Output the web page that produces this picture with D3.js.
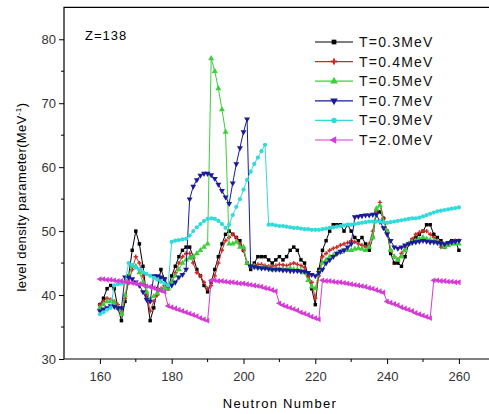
<!DOCTYPE html>
<html>
<head>
<meta charset="utf-8">
<script src="https://cdn.jsdelivr.net/npm/d3@7"></script>
<style>
  body { margin: 0; background: #fff; overflow: hidden; }
  svg { display: block; font-family: "Liberation Sans", Arial, sans-serif; }
</style>
</head>
<body>
<div id="chart"></div>
<script>
// neutron numbers 160..260
const neutrons = d3.range(160, 261)

const t03 = [
  38.5, 39.5, 41, 41.5, 41, 38, 36, 39, 43, 47,
  50, 48, 44.5, 40, 36, 38, 41, 44, 42.5, 41,
  43, 44.5, 46, 47, 47.5, 47.5, 46, 44, 43, 41.5,
  40.5, 42, 44, 46, 48, 49.5, 50, 49.5, 49, 48.5,
  47, 45, 44, 45, 46, 46, 46, 45.5, 45, 45.5,
  46, 45.5, 46, 47, 47.5, 47, 45.5, 45, 43, 41,
  38.5, 44, 47, 48.5, 50, 51, 51, 51, 50, 51,
  50, 49, 48.5, 49, 48, 47, 49, 53, 53, 52,
  50, 46.5, 45, 45, 44.5, 46, 48, 48.5, 49, 49.5,
  50, 51, 51, 49.5, 49, 48.5, 47.5, 48, 48.5, 48.5,
  47
]
const t04 = [
  38.5, 39, 39.5, 39.3, 39, 38.5, 37, 39.5, 42, 44,
  46, 45, 43, 40, 37.5, 39, 40, 41, 41.5, 41,
  42, 43.5, 45, 46, 46.5, 46.5, 45, 43.5, 43, 42,
  41, 41.5, 43, 45, 47, 48.5, 49, 49.5, 49, 48,
  47, 45, 44.5, 44.7, 44.8, 44.8, 44.6, 44.5, 44.5, 44.6,
  44.8, 44.7, 44.6, 44.8, 45, 44.8, 44.6, 44.3, 43, 42,
  39.5, 43, 46, 46.5, 47, 47.3, 47.5, 47.8, 48, 48.2,
  48.5, 48.3, 48, 47.8, 47.5, 48, 50, 53, 54.5, 52,
  50, 47, 46, 45.5, 46.5, 47.5, 48, 48.8, 49.5, 49.8,
  50, 50, 49.5, 49, 48.5, 47.5, 47.5, 48, 48.3, 48.5,
  48.5
]
const t05 = [
  38, 38.5, 39, 39, 38.8, 38, 37, 40, 43, 44.5,
  44.5, 43.5, 42, 40.5, 39.2, 39.8, 40.3, 40.8, 41, 41,
  42, 43, 44, 45, 45.5, 45.8, 46, 46.5, 47, 47.5,
  48, 77, 75, 72.3, 69, 65.5, 48, 48, 48.3, 47.5,
  47.5, 45, 44.5, 44.5, 44.3, 44.3, 44.2, 44.2, 44, 44,
  44, 44, 44, 44.2, 44, 44, 43.8, 43.5, 42.3, 41.3,
  41, 43.5, 45, 45.5, 46, 46.2, 46.5, 46.7, 47, 47,
  47, 47.2, 47.3, 47.2, 47, 47.5, 49, 53.5, 54, 51.5,
  50, 47, 46, 45.5, 46, 47, 48, 48.3, 48.5, 48.8,
  49, 48.8, 48.6, 48.5, 48.3, 48, 47.5, 47.8, 48, 48,
  48
]
const t07 = [
  37.5, 37.8, 38, 38.3, 38.2, 38, 38, 42.8, 42.8, 42.5,
  42, 41.5, 40.5, 39.3, 39, 43, 43, 42.8, 42.5, 41.5,
  41.5, 42, 42.8, 43.2, 44, 55, 57, 58, 58.7, 59,
  59, 58.8, 58.2, 57.3, 56.3, 55.3, 54.3, 57.5, 60.5, 63,
  65.5, 67.5, 44.5, 44.4, 44.3, 44.2, 44.2, 44.1, 44, 44,
  44, 43.9, 43.9, 43.8, 43.8, 43.8, 43.7, 43.7, 43.5, 43.2,
  43, 43.5, 44, 45, 45.5, 46, 46.5, 46.8, 47, 47.5,
  48, 52.2, 52.3, 52.4, 52.5, 52.5, 52.6, 52.6, 51.5, 50.5,
  49.5, 48.5, 47.5, 47.3, 47.5, 47.8, 48, 48.2, 48.3, 48.4,
  48.5, 48.4, 48.3, 48.3, 48.2, 48.1, 48, 48.2, 48.3, 48.4,
  48.5
]
const t09 = [
  37, 37.3, 37.7, 38, 41.5, 41.7, 41.8, 42, 45, 44.7,
  44.3, 44, 43.6, 43.3, 43, 42.7, 42.4, 42.1, 41.8, 41.5,
  48.3, 48.5, 48.6, 48.7, 48.8, 49.3, 50, 50.6, 51.1, 51.6,
  51.9, 52, 51.9, 51.6, 51.1, 50.5, 51, 52.5, 53.8, 55,
  56.5, 58, 59.3, 60.5, 61.5, 62.5, 63.5, 51, 51, 50.9,
  50.8, 50.8, 50.7, 50.6, 50.5, 50.5, 50.4, 50.3, 50.3, 50.2,
  50.2, 50.2, 50.3, 50.4, 50.5, 50.6, 50.7, 50.8, 50.9, 51,
  51, 51.1, 51.2, 51.3, 51.4, 51.5, 51.5, 51.5, 51.5, 51.4,
  51.3, 51.4, 51.5, 51.6, 51.7, 51.8, 51.9, 52, 52, 52.1,
  52.3, 52.5, 52.7, 52.9, 53.1, 53.2, 53.3, 53.4, 53.5, 53.6,
  53.7
]
const t20 = [
  42.5, 42.5, 42.4, 42.4, 42.3, 42.2, 42.2, 42.1, 42, 41.9,
  41.8, 41.7, 41.6, 41.4, 41.3, 41.1, 40.9, 40.7, 40.5, 38.3,
  38.1, 37.9, 37.7, 37.5, 37.3, 37.1, 36.9, 36.7, 36.4, 36.2,
  36, 42.3, 42.3, 42.2, 42.2, 42.1, 42, 42, 41.9, 41.8,
  41.8, 41.7, 41.6, 41.5, 41.4, 41.3, 41.1, 41, 40.8, 40.6,
  38.7, 38.4, 38.2, 38, 37.8, 37.6, 37.3, 37.1, 36.9, 36.6,
  36.4, 36.2, 42.3, 42.2, 42.2, 42.1, 42, 42, 41.9, 41.8,
  41.7, 41.6, 41.5, 41.4, 41.3, 41.1, 41, 40.8, 40.6, 40.4,
  39, 38.8, 38.6, 38.4, 38.1, 37.9, 37.7, 37.5, 37.2, 37,
  36.8, 36.6, 36.4, 42.3, 42.3, 42.2, 42.2, 42.1, 42.1, 42,
  42
]

const seriesNames = ['T=0.3MeV', 'T=0.4MeV', 'T=0.5MeV', 'T=0.7MeV', 'T=0.9MeV', 'T=2.0MeV']
const seriesValues = [t03, t04, t05, t07, t09, t20]
const xTicks = [160, 180, 200, 220, 240, 260]
const xMinor = [170, 190, 210, 230, 250]
const yTicks = [30, 40, 50, 60, 70, 80]
const yMinor = [35, 45, 55, 65, 75]

const styles = [
  { color: '#000000', sym: d3.symbolSquare, size: 12, rot: 0 },
  { color: '#cc2a2a', sym: d3.symbolCross, size: 10, rot: 0 },
  { color: '#3ccf3c', sym: d3.symbolTriangle, size: 15, rot: 0 },
  { color: '#1a1a9a', sym: d3.symbolTriangle, size: 15, rot: 180 },
  { color: '#33dada', sym: d3.symbolCircle, size: 14, rot: 0 },
  { color: '#d63ad6', sym: d3.symbolTriangle, size: 15, rot: -90 }
]

const width = 489, height = 414
const svg = d3.select('#chart').append('svg')
  .attr('width', width)
  .attr('height', height)

const x = d3.scaleLinear().domain([150, 270]).range([64, 494.8])
const y = d3.scaleLinear().domain([30, 85]).range([359, 7.3])

svg.append('clipPath').attr('id', 'clip')
  .append('rect').attr('x', 0).attr('y', 0).attr('width', 484).attr('height', height)

// frame: left, bottom and top (the right side lies past the picture)
svg.append('path')
  .attr('d', `M${width},${y(85)}H${x(150)}V${y(30)}H${width}`)
  .attr('fill', 'none').attr('stroke', '#000').attr('stroke-width', 1.2)

const xAxis = svg.append('g')
  .attr('transform', `translate(0, ${y(30)})`)
  .call(d3.axisBottom(x).tickValues(xTicks).tickSize(5).tickFormat(d3.format('d')))
xAxis.select('.domain').remove()
xAxis.selectAll('text').attr('fill', '#333').style('font-size', '13px').attr('dy', '1.1em')

const yAxis = svg.append('g')
  .attr('transform', `translate(${x(150)}, 0)`)
  .call(d3.axisLeft(y).tickValues(yTicks).tickSize(5))
yAxis.select('.domain').remove()
yAxis.selectAll('text').attr('fill', '#333').style('font-size', '13px')

// minor ticks
svg.append('g').selectAll('line')
  .data(xMinor)
  .join('line')
  .attr('x1', d => x(d)).attr('x2', d => x(d))
  .attr('y1', y(30)).attr('y2', y(30) + 3)
  .attr('stroke', '#000')
svg.append('g').selectAll('line')
  .data(yMinor)
  .join('line')
  .attr('x1', x(150) - 3).attr('x2', x(150))
  .attr('y1', d => y(d)).attr('y2', d => y(d))
  .attr('stroke', '#000')

const plot = svg.append('g').attr('clip-path', 'url(#clip)')

// lines + markers
const line = d3.line()
  .x((d, i) => x(neutrons[i]))
  .y(d => y(d))

seriesValues.forEach((vals, k) => {
  const st = styles[k]
  const g = plot.append('g')
  g.append('path')
    .attr('d', line(vals))
    .attr('fill', 'none')
    .attr('stroke', st.color)
    .attr('stroke-width', 1)
  const sym = d3.symbol().type(st.sym).size(st.size)
  g.selectAll('path.m')
    .data(vals)
    .join('path')
    .attr('class', 'm')
    .attr('d', sym)
    .attr('transform', (d, i) => `translate(${x(neutrons[i])}, ${y(d)}) rotate(${st.rot})`)
    .attr('fill', st.color)
})

// legend
const legend = plot.append('g').attr('transform', 'translate(315, 42)')
seriesNames.forEach((name, k) => {
  const st = styles[k]
  const row = legend.append('g').attr('transform', `translate(0, ${k * 19.6})`)
  row.append('line')
    .attr('x1', 0).attr('x2', 38)
    .attr('stroke', st.color).attr('stroke-width', 1.2)
  row.append('path')
    .attr('d', d3.symbol().type(st.sym).size(st.size + 10))
    .attr('transform', `translate(19, 0) rotate(${st.rot})`)
    .attr('fill', st.color)
  row.append('text')
    .attr('x', 44).attr('y', 5)
    .style('font-size', '14px')
    .style('letter-spacing', '1.2px')
    .attr('fill', '#111')
    .text(name)
})

plot.append('text')
  .attr('x', 85).attr('y', 40)
  .style('font-size', '13px')
  .style('letter-spacing', '1px')
  .text('Z=138')

plot.append('text')
  .attr('x', 280).attr('y', 408)
  .attr('text-anchor', 'middle')
  .style('font-size', '13px')
  .style('letter-spacing', '1.3px')
  .text('Neutron Number')

const yLabel = plot.append('text')
  .attr('transform', 'translate(26, 197) rotate(-90)')
  .attr('text-anchor', 'middle')
  .style('font-size', '13px')
  .style('letter-spacing', '0.4px')
yLabel.append('tspan').text('level density parameter(MeV')
yLabel.append('tspan').attr('dy', -5).style('font-size', '8px').text('-1')
yLabel.append('tspan').attr('dy', 5).text(')')
</script>
</body>
</html>
